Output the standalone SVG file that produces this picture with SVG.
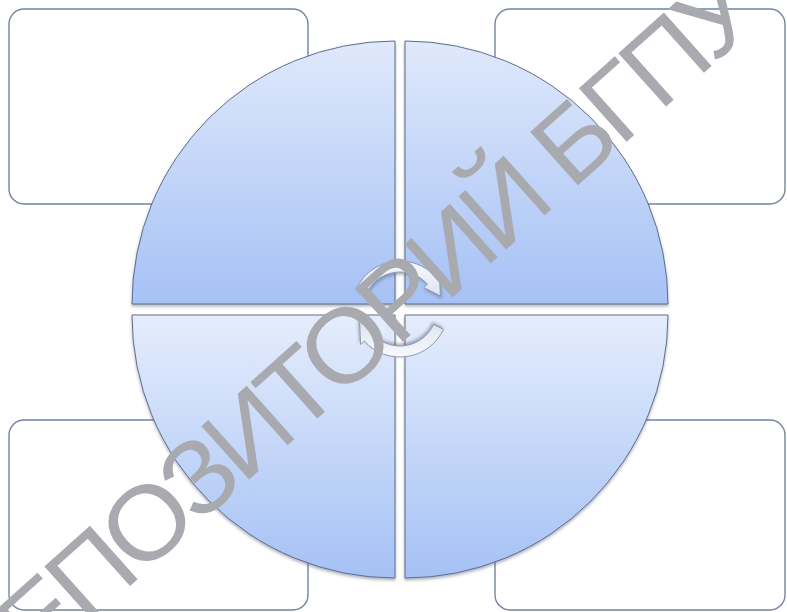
<svg xmlns="http://www.w3.org/2000/svg" width="787" height="612" viewBox="0 0 787 612">
  <defs>
    <linearGradient id="gTop" x1="0" y1="0" x2="0" y2="1">
      <stop offset="0" stop-color="#dfe9fb"/>
      <stop offset="1" stop-color="#a6c1f5"/>
    </linearGradient>
    <linearGradient id="gBot" x1="0" y1="0" x2="0" y2="1">
      <stop offset="0" stop-color="#e5edfc"/>
      <stop offset="1" stop-color="#a5c1f5"/>
    </linearGradient>
    <linearGradient id="gArrow" x1="0" y1="0" x2="0" y2="1">
      <stop offset="0" stop-color="#f7f9fd"/>
      <stop offset="1" stop-color="#dde4f0"/>
    </linearGradient>
    <filter id="shadow" x="-10%" y="-10%" width="120%" height="120%">
      <feDropShadow dx="0" dy="2" stdDeviation="1.6" flood-color="#4a5870" flood-opacity="0.45"/>
    </filter>
    <filter id="ashadow" x="-20%" y="-20%" width="140%" height="140%">
      <feDropShadow dx="1" dy="2" stdDeviation="1.5" flood-color="#5a6478" flood-opacity="0.5"/>
    </filter>
  </defs>
  <style>
    .box { fill: #ffffff; stroke: #7184a2; stroke-width: 1.4; }
    .quad { stroke: #5f6f8a; stroke-width: 1; filter: url(#shadow); }
    .qt { fill: url(#gTop); }
    .qb { fill: url(#gBot); }
    .arrow { fill: url(#gArrow); stroke: #8e99ad; stroke-width: 1; filter: url(#ashadow); }
    .wm { font-family: "Liberation Sans", Arial, sans-serif; font-size: 104px; letter-spacing: -6px; fill: #a8aab0; }
  </style>
  <rect width="787" height="612" fill="#ffffff"/>

  <g id="box-top-left"><rect class="box" x="9" y="9" width="299" height="195" rx="15"/></g>
  <g id="box-top-right"><rect class="box" x="495" y="9" width="290" height="195" rx="15"/></g>
  <g id="box-bottom-left"><rect class="box" x="9" y="420" width="299" height="190" rx="15"/></g>
  <g id="box-bottom-right"><rect class="box" x="495" y="420" width="290" height="190" rx="15"/></g>

  <g id="quad-top-left"><path class="quad qt" d="M395,304 L132,304 A263,263 0 0 1 395,41 Z"/></g>
  <g id="quad-top-right"><path class="quad qt" d="M405,304 L405,41 A263,263 0 0 1 668,304 Z"/></g>
  <g id="quad-bottom-left"><path class="quad qb" d="M395,315 L395,578 A263,263 0 0 1 132,315 Z"/></g>
  <g id="quad-bottom-right"><path class="quad qb" d="M405,315 L668,315 A263,263 0 0 1 405,578 Z"/></g>

  <g id="connectors">
    <path class="arrow" d="M356.5,288.7 A48,48 0 0 1 435.7,276.9 L439.4,273.5 L440.4,295.9 L423.8,287.6 L427.5,284.2 A37,37 0 0 0 366.5,293.4 Z"/>
    <path class="arrow" transform="rotate(180 400 309)" d="M356.5,288.7 A48,48 0 0 1 435.7,276.9 L439.4,273.5 L440.4,295.9 L423.8,287.6 L427.5,284.2 A37,37 0 0 0 366.5,293.4 Z"/>
  </g>

  <g id="watermark" transform="translate(90,572) rotate(-41.8) scale(1.05,1)">
    <text class="wm" x="-164" y="37">РЕПОЗИТОРИЙ БГПУ</text>
  </g>
</svg>
